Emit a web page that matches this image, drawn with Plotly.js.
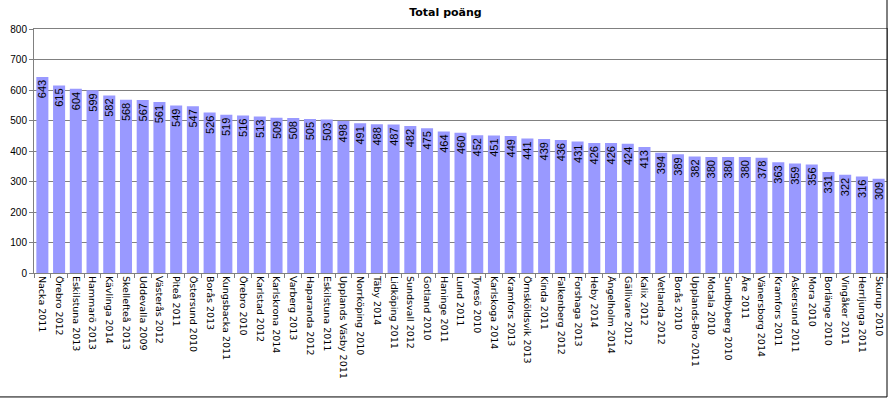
<!DOCTYPE html>
<html>
<head>
<meta charset="utf-8">
<script src="https://cdn.plot.ly/plotly-3.0.1.min.js"></script>
<style>html,body{margin:0;padding:0;background:#fff;}#chart{width:891px;height:402px;}</style>
</head>
<body>
<div id="chart"></div>
<script>
const categories = ["Nacka 2011","Örebro 2012","Eskilstuna 2013","Hammarö 2013","Kävlinga 2014","Skellefteå 2013","Uddevalla 2009","Västerås 2012","Piteå 2011","Östersund 2010","Borås 2013","Kungsbacka 2011","Örebro 2010","Karlstad 2012","Karlskrona 2014","Varberg 2013","Haparanda 2012","Eskilstuna 2011","Upplands Väsby 2011","Norrköping 2010","Täby 2014","Lidköping 2011","Sundsvall 2012","Gotland 2010","Haninge 2011","Lund 2011","Tyresö 2010","Karlskoga 2014","Kramfors 2013","Örnsköldsvik 2013","Kinda 2011","Falkenberg 2012","Forshaga 2013","Heby 2014","Ängelholm 2014","Gällivare 2012","Kalix 2012","Vetlanda 2012","Borås 2010","Upplands-Bro 2011","Motala 2010","Sundbyberg 2010","Åre 2011","Vänersborg 2014","Kramfors 2011","Askersund 2011","Mora 2010","Borlänge 2010","Vingåker 2011","Herrljunga 2011","Skurup 2010"];
const values = [643,615,604,599,582,568,567,561,549,547,526,519,516,513,509,508,505,503,498,491,488,487,482,475,464,460,452,451,449,441,439,436,431,426,426,424,413,394,389,382,380,380,380,378,363,359,356,331,322,316,309];
const yTicks = [0,100,200,300,400,500,600,700,800];
const titleText = "Total poäng";

const trace = {
  type: 'bar',
  x: categories,
  y: values,
  marker: {color: '#9999FF', line: {width: 0}},
  text: values.map(String),
  textposition: 'inside',
  insidetextanchor: 'end',
  textangle: -90,
  textfont: {family: 'Liberation Sans, Arial, sans-serif', size: 11, color: '#000'},
  hoverinfo: 'x+y'
};

const layout = {
  width: 891, height: 402,
  margin: {l: 34, r: 4, t: 29, b: 129, pad: 0},
  paper_bgcolor: '#fff', plot_bgcolor: '#fff',
  bargap: 0.28,
  showlegend: false,
  uniformtext: {minsize: 11, mode: 'show'},
  title: {text: '<b>' + titleText + '</b>', x: 0.5, xanchor: 'center', y: 0.97, yanchor: 'middle', yref: 'container',
          font: {family: 'DejaVu Sans, Verdana, sans-serif', size: 11, color: '#000'}},
  xaxis: {
    type: 'category',
    tickangle: 90,
    tickfont: {family: 'DejaVu Sans, Verdana, sans-serif', size: 9.5, color: '#000'},
    ticks: 'outside', ticklen: 4, tickcolor: '#808080', tickson: 'boundaries',
    showline: true, linecolor: '#808080', linewidth: 1, mirror: true,
    showgrid: false, automargin: false
  },
  yaxis: {
    range: [0, 800],
    tickvals: yTicks,
    ticktext: yTicks.map(String),
    tickfont: {family: 'Liberation Sans, Arial, sans-serif', size: 10, color: '#000'},
    ticks: 'outside', ticklen: 4, tickcolor: '#808080',
    showline: true, linecolor: '#808080', linewidth: 1, mirror: true,
    showgrid: true, gridcolor: '#808080', gridwidth: 1,
    zeroline: false, automargin: false
  },
  shapes: [
    {type: 'line', xref: 'paper', yref: 'paper', x0: 1, x1: 1, y0: -0.508, y1: 1.2, line: {color: '#000', width: 1}},
    {type: 'line', xref: 'paper', yref: 'paper', x0: -0.1, x1: 1, y0: -0.508, y1: -0.508, line: {color: '#000', width: 1}}
  ]
};

Plotly.newPlot('chart', [trace], layout, {displayModeBar: false, staticPlot: true});
</script>
</body>
</html>
